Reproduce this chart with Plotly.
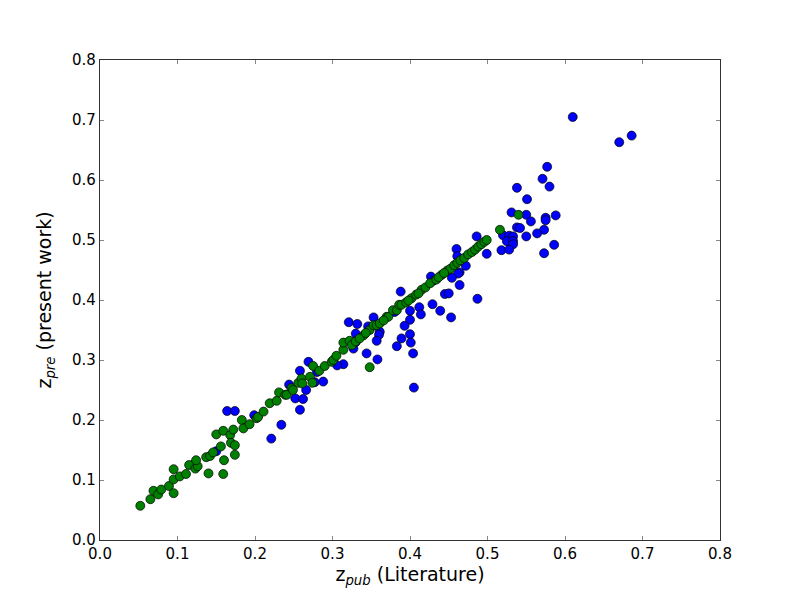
import plotly.graph_objects as go

# Blue sample: literature vs present-work redshift (broader scatter)
blue_x = [0.610, 0.670, 0.686, 0.577, 0.571, 0.580, 0.538, 0.551, 0.531, 0.550,
          0.556, 0.575, 0.588, 0.575, 0.538, 0.542, 0.573, 0.564, 0.550, 0.520,
          0.528, 0.533, 0.525, 0.533, 0.533, 0.518, 0.528, 0.586, 0.573, 0.486,
          0.499, 0.472, 0.464, 0.460, 0.461, 0.462, 0.454, 0.464, 0.427, 0.388,
          0.445, 0.450, 0.487, 0.429, 0.439, 0.453, 0.412, 0.414, 0.400, 0.400,
          0.393, 0.389, 0.400, 0.401, 0.383, 0.404, 0.405, 0.353, 0.321, 0.332,
          0.346, 0.361, 0.360, 0.330, 0.357, 0.344, 0.358, 0.327, 0.314, 0.306,
          0.269, 0.258, 0.244, 0.288, 0.277, 0.266, 0.252, 0.262, 0.258, 0.234,
          0.221, 0.164, 0.174, 0.199, 0.120, 0.150, 0.280, 0.330, 0.380, 0.430]
blue_y = [0.705, 0.663, 0.674, 0.622, 0.602, 0.589, 0.587, 0.568, 0.546, 0.542,
          0.531, 0.537, 0.541, 0.533, 0.521, 0.520, 0.517, 0.511, 0.506, 0.508,
          0.507, 0.506, 0.498, 0.498, 0.493, 0.483, 0.484, 0.492, 0.478, 0.506,
          0.477, 0.457, 0.446, 0.485, 0.473, 0.444, 0.437, 0.425, 0.439, 0.414,
          0.410, 0.411, 0.402, 0.393, 0.382, 0.371, 0.388, 0.376, 0.382, 0.367,
          0.357, 0.336, 0.343, 0.329, 0.323, 0.311, 0.254, 0.371, 0.363, 0.360,
          0.356, 0.347, 0.342, 0.344, 0.332, 0.311, 0.301, 0.319, 0.293, 0.291,
          0.297, 0.282, 0.259, 0.264, 0.263, 0.250, 0.236, 0.235, 0.217, 0.192,
          0.169, 0.215, 0.215, 0.208, 0.125, 0.148, 0.280, 0.330, 0.380, 0.432]

# Green sample: tight relation
green_x = [0.052, 0.065, 0.069, 0.075, 0.079, 0.089, 0.095, 0.095, 0.095, 0.103,
           0.111, 0.115, 0.123, 0.126, 0.124, 0.140, 0.159, 0.137, 0.142, 0.146,
           0.156, 0.160, 0.174, 0.150, 0.159, 0.168, 0.172, 0.169, 0.174, 0.183,
           0.185, 0.193, 0.202, 0.204, 0.211, 0.219, 0.228, 0.231, 0.239, 0.241,
           0.247, 0.249, 0.256, 0.260, 0.261, 0.271, 0.274, 0.275, 0.283, 0.290,
           0.299, 0.301, 0.305, 0.314, 0.314, 0.322, 0.325, 0.330, 0.340, 0.348,
           0.353, 0.357, 0.361, 0.370, 0.372, 0.378, 0.383, 0.386, 0.389, 0.395,
           0.402, 0.408, 0.415, 0.420, 0.426, 0.434, 0.441, 0.448, 0.452, 0.457,
           0.461, 0.465, 0.470, 0.475, 0.480, 0.484, 0.488, 0.492, 0.496, 0.499,
           0.516, 0.540, 0.348, 0.335, 0.343, 0.366, 0.398, 0.411, 0.437, 0.444]
green_y = [0.057, 0.068, 0.082, 0.076, 0.084, 0.090, 0.078, 0.101, 0.118, 0.106,
           0.110, 0.125, 0.119, 0.123, 0.133, 0.111, 0.110, 0.138, 0.140, 0.146,
           0.156, 0.133, 0.142, 0.176, 0.182, 0.175, 0.184, 0.162, 0.158, 0.200,
           0.186, 0.193, 0.203, 0.205, 0.214, 0.228, 0.232, 0.246, 0.242, 0.242,
           0.253, 0.250, 0.262, 0.269, 0.261, 0.272, 0.262, 0.290, 0.282, 0.290,
           0.297, 0.300, 0.307, 0.317, 0.329, 0.332, 0.325, 0.331, 0.341, 0.350,
           0.358, 0.358, 0.361, 0.372, 0.372, 0.383, 0.383, 0.392, 0.392, 0.396,
           0.403, 0.409, 0.417, 0.421, 0.428, 0.434, 0.442, 0.449, 0.452, 0.458,
           0.462, 0.466, 0.470, 0.476, 0.480, 0.484, 0.489, 0.493, 0.497, 0.500,
           0.517, 0.542, 0.288, 0.336, 0.345, 0.366, 0.399, 0.411, 0.438, 0.445]

ticks = [0.0, 0.1, 0.2, 0.3, 0.4, 0.5, 0.6, 0.7, 0.8]
tick_text = ['%.1f' % t for t in ticks]

fig = go.Figure()
fig.add_trace(go.Scatter(
    x=blue_x, y=blue_y, mode='markers',
    marker=dict(color='#0000ff', size=9, line=dict(color='black', width=0.7)),
    showlegend=False
))
fig.add_trace(go.Scatter(
    x=green_x, y=green_y, mode='markers',
    marker=dict(color='#008000', size=9, line=dict(color='black', width=0.7)),
    showlegend=False
))

axis_style = dict(
    range=[0, 0.8], tickvals=ticks, ticktext=tick_text,
    showgrid=False, zeroline=False,
    showline=True, linecolor='#333333', linewidth=1.2, mirror='ticks',
    ticks='inside', ticklen=4, tickcolor='#888888',
    tickfont=dict(family='DejaVu Sans', size=15, color='black')
)

# page body adds an 8px offset, so the figure is shrunk to keep the axes in place
fig.update_layout(
    width=792, height=592,
    margin=dict(l=92, r=80, t=52, b=60),
    plot_bgcolor='white', paper_bgcolor='white',
    font=dict(family='DejaVu Sans', color='black'),
    xaxis=dict(axis_style, title=dict(text='z<sub><i>pub</i></sub> (Literature)',
                                      font=dict(size=19), standoff=4)),
    yaxis=dict(axis_style, title=dict(text='z<sub><i>pre</i></sub> (present work)',
                                      font=dict(size=19), standoff=15)),
)

fig.write_html('out.html')
